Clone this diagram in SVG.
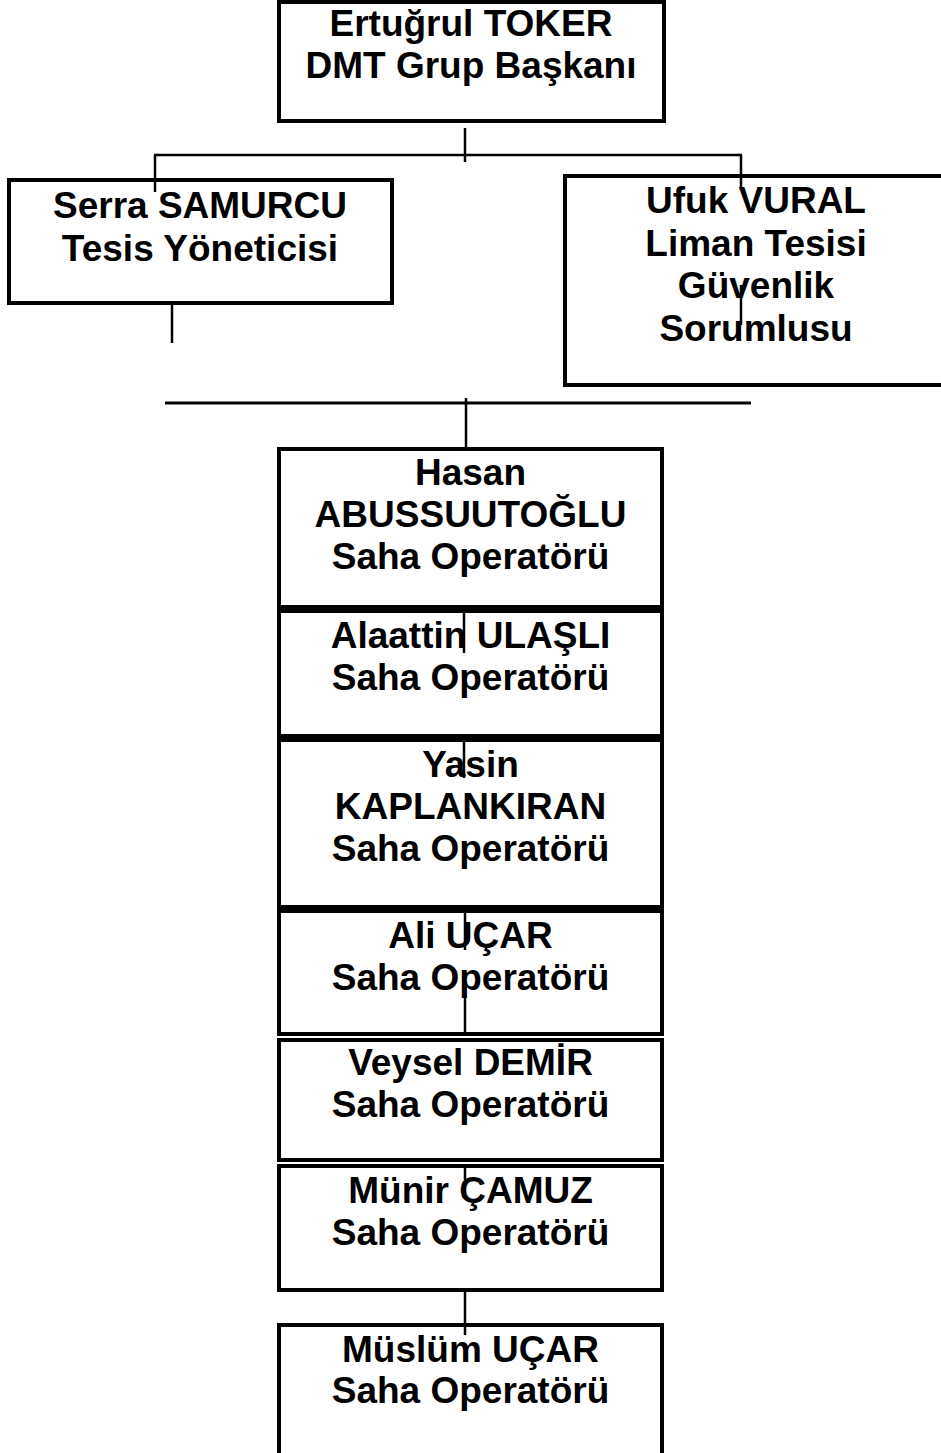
<svg xmlns="http://www.w3.org/2000/svg" width="941" height="1453" viewBox="0 0 941 1453">
<style>
.box{fill:#fff;stroke:#000;stroke-width:4}
.t{font-family:"Liberation Sans",Arial,sans-serif;font-weight:bold;font-size:37px;fill:#000;text-anchor:middle}
.c{stroke:#000;stroke-width:2.5;fill:none}
</style>
<rect width="941" height="1453" fill="#fff"/>
<g id="node-toker">
<rect class="box" x="279" y="2" width="385" height="119"/>
<text class="t" x="471" y="36">Ertuğrul TOKER</text>
<text class="t" x="471" y="78">DMT Grup Başkanı</text>
</g>
<g id="node-samurcu">
<rect class="box" x="9" y="180" width="383" height="123"/>
<text class="t" x="200" y="218">Serra SAMURCU</text>
<text class="t" x="200" y="261">Tesis Yöneticisi</text>
</g>
<g id="node-vural">
<rect class="box" x="565" y="176" width="400" height="209"/>
<text class="t" x="756" y="213">Ufuk VURAL</text>
<text class="t" x="756" y="256">Liman Tesisi</text>
<text class="t" x="756" y="298">Güvenlik</text>
<text class="t" x="756" y="341">Sorumlusu</text>
</g>
<g id="node-abussuutoglu">
<rect class="box" x="279" y="449" width="383" height="158"/>
<text class="t" x="470.5" y="485">Hasan</text>
<text class="t" x="470.5" y="527">ABUSSUUTOĞLU</text>
<text class="t" x="470.5" y="569">Saha Operatörü</text>
</g>
<g id="node-ulasli">
<rect class="box" x="279" y="611" width="383" height="125"/>
<text class="t" x="470.5" y="648">Alaattin ULAŞLI</text>
<text class="t" x="470.5" y="690">Saha Operatörü</text>
</g>
<g id="node-kaplankiran">
<rect class="box" x="279" y="740" width="383" height="167"/>
<text class="t" x="470.5" y="777">Yasin</text>
<text class="t" x="470.5" y="819">KAPLANKIRAN</text>
<text class="t" x="470.5" y="861">Saha Operatörü</text>
</g>
<g id="node-ali-ucar">
<rect class="box" x="279" y="911" width="383" height="123"/>
<text class="t" x="470.5" y="948">Ali UÇAR</text>
<text class="t" x="470.5" y="990">Saha Operatörü</text>
</g>
<g id="node-demir">
<rect class="box" x="279" y="1040" width="383" height="120"/>
<text class="t" x="470.5" y="1075">Veysel DEMİR</text>
<text class="t" x="470.5" y="1117">Saha Operatörü</text>
</g>
<g id="node-camuz">
<rect class="box" x="279" y="1166" width="383" height="124"/>
<text class="t" x="470.5" y="1203">Münir ÇAMUZ</text>
<text class="t" x="470.5" y="1245">Saha Operatörü</text>
</g>
<g id="node-muslum-ucar">
<rect class="box" x="279" y="1325" width="383" height="200"/>
<text class="t" x="470.5" y="1362">Müslüm UÇAR</text>
<text class="t" x="470.5" y="1403">Saha Operatörü</text>
</g>
<g id="connectors">
<line class="c" x1="465" y1="128" x2="465" y2="162"/>
<line class="c" x1="154" y1="155" x2="742" y2="155"/>
<line class="c" x1="155" y1="155" x2="155" y2="192"/>
<line class="c" x1="741" y1="155" x2="741" y2="187"/>
<line class="c" x1="741" y1="285" x2="741" y2="325"/>
<line class="c" x1="172" y1="305" x2="172" y2="343"/>
<line class="c" x1="165" y1="403" x2="751" y2="403" style="stroke-width:3"/>
<line class="c" x1="466" y1="398" x2="466" y2="449"/>
<line class="c" x1="464" y1="613" x2="464" y2="653"/>
<line class="c" x1="464" y1="742" x2="464" y2="778"/>
<line class="c" x1="465" y1="913" x2="465" y2="950"/>
<line class="c" x1="465" y1="998" x2="465" y2="1033"/>
<line class="c" x1="465" y1="1166" x2="465" y2="1180"/>
<line class="c" x1="465" y1="1292" x2="465" y2="1335"/>
</g>
</svg>
